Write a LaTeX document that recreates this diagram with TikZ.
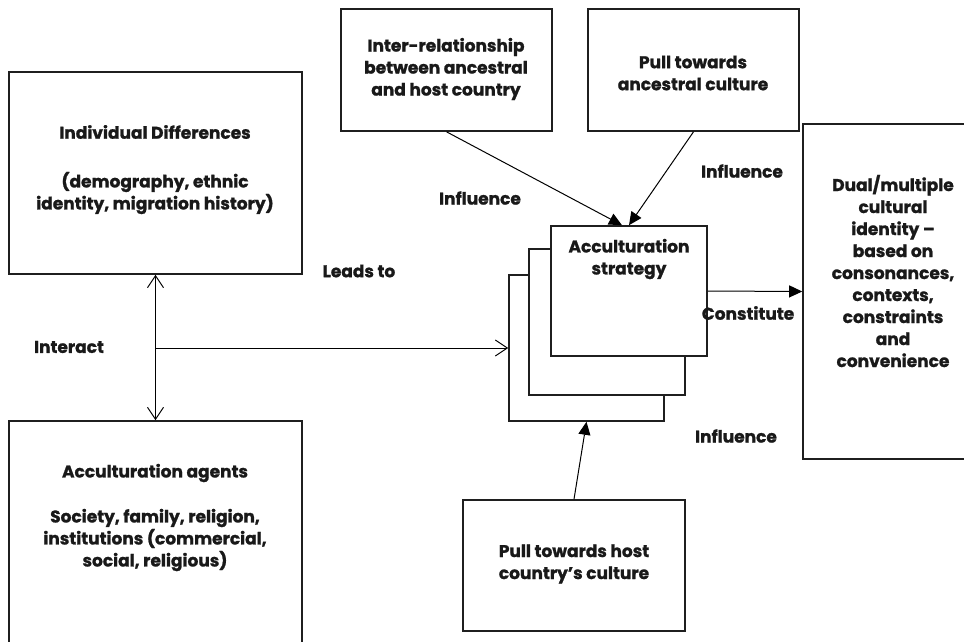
\documentclass[tikz,border=0pt]{standalone}
\usepackage{fontspec}
\setmainfont{Poppins}[BoldFeatures={FakeBold=1.2}]
\usetikzlibrary{arrows.meta}
\begin{document}
\begin{tikzpicture}[x=1pt,y=-1pt,
 box/.style={draw=black!88, line width=1.6pt, fill=white, inner sep=0pt},
 txt/.style={font=\fontsize{17}{22}\selectfont\bfseries, align=center, inner sep=0pt, text=black!90},
 lbl/.style={font=\fontsize{17}{22}\selectfont\bfseries, inner sep=0pt, text=black!90},
 fa/.style={-{Triangle[length=13pt,width=12pt]}, line width=1pt},
 oa/.style={-{Straight Barb[length=12pt,width=16pt,line width=1pt]}, line width=1pt},
 oab/.style={{Straight Barb[length=12pt,width=16pt,line width=1pt]}-{Straight Barb[length=12pt,width=16pt,line width=1pt]}, line width=1pt}
]
\useasboundingbox (0,0) rectangle (964,642);
% boxes
\node[box, minimum width=293pt, minimum height=202pt] (ind) at (155.5,173) {};
\node[box, minimum width=293pt, minimum height=279pt] (agents) at (155.5,560.5) {};
\node[box, minimum width=211pt, minimum height=122pt] (inter) at (446.5,70) {};
\node[box, minimum width=211pt, minimum height=122pt] (anc) at (693.5,70) {};
\node[box, minimum width=155pt, minimum height=146pt] (back) at (586.5,348) {};
\node[box, minimum width=156pt, minimum height=146pt] (mid) at (607,322) {};
\node[box, minimum width=156pt, minimum height=130pt] (strat) at (629,291) {};
\node[box, minimum width=180pt, minimum height=335pt] (dual) at (893,291.5) {};
\node[box, minimum width=222pt, minimum height=131pt] (host) at (574,565.5) {};
% texts
\node[txt] (t1) at (155,132) {Individual Differences};
\node[txt] (t2) at (155,193) {(demography, ethnic\\identity, migration history)};
\node[txt] (t3) at (155,473) {Acculturation agents};
\node[txt] (t4) at (155,540) {Society, family, religion,\\institutions (commercial,\\social, religious)};
\node[txt] (t5) at (446,69) {Inter-relationship\\between ancestral\\and host country};
\node[txt] (t6) at (693,73) {Pull towards\\ancestral culture};
\node[txt] (t7) at (629,259) {Acculturation\\strategy};
\node[txt] (t8) at (893,271) {Dual/multiple\\cultural\\identity –\\based on\\consonances,\\contexts,\\constraints\\and\\convenience};
\node[txt] (t9) at (574,564) {Pull towards host\\country’s culture};
% labels
\node[lbl] (l1) at (480,198) {Influence};
\node[lbl] (l2) at (742,171) {Influence};
\node[lbl] (l3) at (359,271) {Leads to};
\node[lbl] (l4) at (69,347) {Interact};
\node[lbl] (l5) at (748,313) {Constitute};
\node[lbl] (l6) at (736,436) {Influence};
% connectors
\draw[oab] (ind.south) -- (agents.north);
\coordinate (j) at (155.5,348);
\draw[oa] (j) -- (back.west);
\draw[fa] (inter.south) -- ([xshift=-7pt]strat.north);
\draw[fa] (anc.south) -- (strat.north);
\draw[fa] (host.north) -- (back.south);
\draw[fa] (strat.east) -- (dual.west);
\end{tikzpicture}
\end{document}
